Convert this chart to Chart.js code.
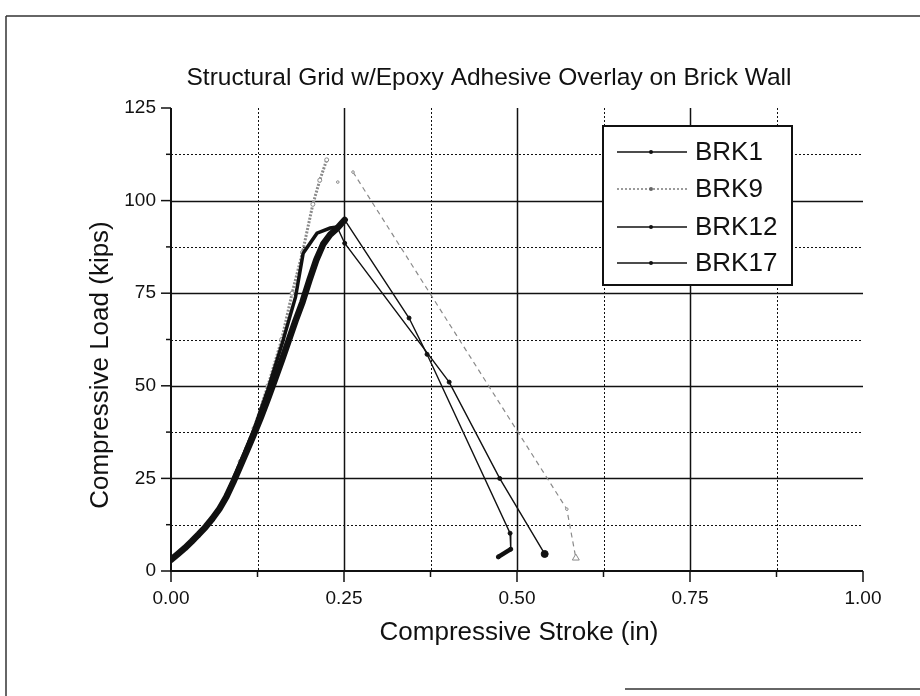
<!DOCTYPE html>
<html>
<head>
<meta charset="utf-8">
<script src="https://cdn.jsdelivr.net/npm/chart.js@4.4.1/dist/chart.umd.min.js"></script>
<style>
  html, body { margin: 0; padding: 0; background: #fff; }
  canvas { display: block; }
</style>
</head>
<body>
<canvas id="brickChart" width="920" height="696"></canvas>
<script>
  // Valeurs (course en pouces, charge en kips)
  const seriesNames = ['BRK1', 'BRK9', 'BRK12', 'BRK17'];

  const brk1X = [0, 0.04, 0.08, 0.12, 0.16, 0.19, 0.21, 0.22, 0.237, 0.251, 0.344, 0.37, 0.49, 0.491, 0.473];
  const brk1Y = [3, 9.9, 20, 37, 56.8, 72.6, 84, 88.3, 92, 94.8, 68.3, 58.5, 10.2, 5.9, 3.8];

  const brk9X = [0, 0.02, 0.04, 0.06, 0.08, 0.10, 0.12, 0.14, 0.16, 0.175, 0.19, 0.205, 0.215, 0.225, 0.241, 0.263, 0.572, 0.585];
  const brk9Y = [3, 6.2, 9.5, 13.8, 20.5, 29.5, 38.5, 50, 62.5, 75, 86, 99, 105.5, 111, 105, 107.7, 16.7, 3.5];

  const brk12X = [0, 0.02, 0.04, 0.06, 0.08, 0.10, 0.12, 0.14, 0.16, 0.18, 0.191, 0.211, 0.23, 0.24, 0.251, 0.402, 0.475, 0.540];
  const brk12Y = [3, 6.2, 9.6, 13.8, 20.3, 29.2, 38.3, 49, 61, 74, 85.8, 91.2, 92.6, 92.9, 88.5, 51, 25, 4.6];

  const brk17X = [0, 0.01, 0.02, 0.03, 0.04, 0.05, 0.06, 0.07, 0.08, 0.09, 0.10, 0.11, 0.12, 0.13, 0.14, 0.15, 0.16, 0.17, 0.18, 0.19, 0.20, 0.21, 0.22, 0.23, 0.24, 0.251];
  const brk17Y = [3, 4.6, 6.2, 8, 9.9, 11.9, 14.2, 16.8, 20, 24, 28.3, 32.6, 37, 41.6, 46.5, 51.6, 56.8, 62.2, 67.6, 72.6, 78.5, 84, 88.3, 90.8, 92.5, 94.8];

  const xTickLabels = ['0.00', '0.25', '0.50', '0.75', '1.00'];
  const yTickLabels = ['0', '25', '50', '75', '100', '125'];

  const FONT = '"Liberation Sans", Arial, Helvetica, sans-serif';
  const INK = '#111';
  const GREY = '#8a8a8a';

  function pts(xs, ys) {
    return xs.map((x, i) => ({ x: x, y: ys[i] }));
  }
  function peakIndex(ys) {
    return ys.indexOf(Math.max.apply(null, ys));
  }
  function isMajor(v, step) {
    return Math.abs(v / step - Math.round(v / step)) < 1e-6;
  }
  function line(ctx, x1, y1, x2, y2) {
    ctx.beginPath();
    ctx.moveTo(x1, y1);
    ctx.lineTo(x2, y2);
    ctx.stroke();
  }

  const pk1 = peakIndex(brk1Y);
  const pk9 = peakIndex(brk9Y);
  const pk12 = peakIndex(brk12Y);

  // Grille, axes, légende et textes dessinés à la main
  const paperPlugin = {
    id: 'paper',
    beforeDatasetsDraw(chart) {
      const { ctx, chartArea: a, scales: { x, y } } = chart;
      ctx.save();
      ctx.strokeStyle = INK;

      x.ticks.forEach(t => {
        const v = t.value;
        if (v <= 0 || v >= 1) return;
        const px = Math.round(x.getPixelForValue(v)) + 0.5;
        const major = isMajor(v, 0.25);
        ctx.lineWidth = major ? 1.5 : 1;
        ctx.setLineDash(major ? [] : [2, 2]);
        line(ctx, px, a.top, px, a.bottom);
      });
      y.ticks.forEach(t => {
        const v = t.value;
        if (v <= 0 || v >= 125) return;
        const py = Math.round(y.getPixelForValue(v)) + 0.5;
        const major = isMajor(v, 25);
        ctx.lineWidth = major ? 1.5 : 1;
        ctx.setLineDash(major ? [] : [2, 2]);
        line(ctx, a.left, py, a.right, py);
      });

      ctx.setLineDash([]);
      ctx.lineWidth = 2;
      line(ctx, a.left, a.top, a.left, a.bottom + 1);
      line(ctx, a.left - 1, a.bottom, a.right, a.bottom);

      ctx.lineWidth = 1.5;
      x.ticks.forEach(t => {
        const px = x.getPixelForValue(t.value);
        line(ctx, px, a.bottom, px, a.bottom + (isMajor(t.value, 0.25) ? 11 : 6));
      });
      y.ticks.forEach(t => {
        const py = y.getPixelForValue(t.value);
        line(ctx, a.left, py, a.left - (isMajor(t.value, 25) ? 10 : 5), py);
      });
      ctx.restore();
    },
    afterDraw(chart) {
      const { ctx } = chart;
      ctx.save();

      // cadre de la page
      ctx.strokeStyle = '#333';
      ctx.lineWidth = 1.5;
      line(ctx, 6, 16, 920, 16);
      line(ctx, 6, 16, 6, 696);
      line(ctx, 625, 689, 920, 689);

      // titre
      ctx.fillStyle = INK;
      ctx.textAlign = 'center';
      ctx.textBaseline = 'alphabetic';
      ctx.font = '24.5px ' + FONT;
      ctx.fillText('Structural Grid w/Epoxy Adhesive Overlay on Brick Wall', 489, 85);

      // titres des axes
      ctx.font = '26px ' + FONT;
      ctx.textBaseline = 'middle';
      ctx.fillText('Compressive Stroke (in)', 519, 633);
      ctx.save();
      ctx.translate(101, 365);
      ctx.rotate(-Math.PI / 2);
      ctx.fillText('Compressive Load (kips)', 0, 0);
      ctx.restore();

      // légende
      const box = { l: 603, t: 126, r: 792, b: 285 };
      ctx.fillStyle = '#fff';
      ctx.fillRect(box.l, box.t, box.r - box.l, box.b - box.t);
      ctx.strokeStyle = INK;
      ctx.lineWidth = 2;
      ctx.strokeRect(box.l, box.t, box.r - box.l, box.b - box.t);
      const rows = [152, 189, 227, 263];
      chart.data.datasets.forEach((ds, i) => {
        const ry = rows[i];
        ctx.strokeStyle = ds.legendColor;
        ctx.lineWidth = 1.3;
        ctx.setLineDash(ds.legendDash);
        line(ctx, 617, ry, 687, ry);
        ctx.setLineDash([]);
        ctx.fillStyle = ds.legendColor;
        ctx.beginPath();
        ctx.arc(651, ry, 2, 0, Math.PI * 2);
        ctx.fill();
        ctx.fillStyle = INK;
        ctx.textAlign = 'left';
        ctx.font = '26px ' + FONT;
        ctx.fillText(ds.label, 695, ry + 1);
      });
      ctx.restore();
    }
  };

  const ctx = document.getElementById('brickChart').getContext('2d');

  const brickChart = new Chart(ctx, {
    type: 'scatter',
    data: {
      datasets: [
        {
          label: seriesNames[0],
          data: pts(brk1X, brk1Y),
          showLine: true,
          borderColor: INK,
          legendColor: INK,
          legendDash: [],
          backgroundColor: INK,
          order: 0,
          pointRadius: c => (c.dataIndex > pk1 ? 2 : 0),
          segment: {
            borderWidth: c => (c.p1DataIndex === brk1X.length - 1 ? 4.5 : 1.4)
          }
        },
        {
          label: seriesNames[1],
          data: pts(brk9X, brk9Y),
          showLine: true,
          borderColor: GREY,
          legendColor: '#666',
          legendDash: [2, 2],
          backgroundColor: '#fff',
          pointBorderColor: GREY,
          pointBorderWidth: 1,
          order: 3,
          pointStyle: c => (c.dataIndex === brk9X.length - 1 ? 'triangle' : 'circle'),
          pointRadius: c => (c.dataIndex === brk9X.length - 1 ? 4 : (c.dataIndex <= pk9 ? 2 : 1.3)),
          segment: {
            borderColor: c => (c.p0DataIndex >= pk9 && c.p0DataIndex < pk9 + 2 ? 'rgba(0,0,0,0)' : GREY),
            borderWidth: c => (c.p0DataIndex < pk9 ? 3 : 1.2),
            borderDash: c => (c.p0DataIndex < pk9 ? [2, 1.5] : [5, 4])
          }
        },
        {
          label: seriesNames[2],
          data: pts(brk12X, brk12Y),
          showLine: true,
          borderColor: INK,
          legendColor: INK,
          legendDash: [],
          backgroundColor: INK,
          order: 1,
          pointRadius: c => (c.dataIndex === brk12X.length - 1 ? 3.5 : (c.dataIndex > pk12 ? 2 : 0)),
          segment: {
            borderWidth: c => (c.p0DataIndex < pk12 ? 3.5 : 1.4)
          }
        },
        {
          label: seriesNames[3],
          data: pts(brk17X, brk17Y),
          showLine: true,
          borderColor: INK,
          legendColor: INK,
          legendDash: [],
          backgroundColor: INK,
          borderWidth: 6.5,
          borderCapStyle: 'round',
          borderJoinStyle: 'round',
          order: 2,
          pointRadius: 0
        }
      ]
    },
    options: {
      responsive: false,
      animation: false,
      events: [],
      devicePixelRatio: 1,
      layout: { padding: { top: 108, right: 57, left: 0, bottom: 0 } },
      plugins: {
        legend: { display: false },
        title: { display: false },
        tooltip: { enabled: false }
      },
      scales: {
        x: {
          type: 'linear',
          min: 0,
          max: 1,
          afterFit: s => { s.height = 125; },
          grid: { display: false, drawTicks: false },
          border: { display: false },
          ticks: {
            stepSize: 0.125,
            autoSkip: false,
            maxRotation: 0,
            padding: 16,
            color: INK,
            font: { family: FONT, size: 19 },
            callback: v => (isMajor(v, 0.25) ? xTickLabels[Math.round(v / 0.25)] : '')
          }
        },
        y: {
          type: 'linear',
          min: 0,
          max: 125,
          afterFit: s => { s.width = 171; },
          grid: { display: false, drawTicks: false },
          border: { display: false },
          ticks: {
            stepSize: 12.5,
            autoSkip: false,
            padding: 15,
            color: INK,
            font: { family: FONT, size: 19 },
            callback: v => (isMajor(v, 25) ? yTickLabels[Math.round(v / 25)] : '')
          }
        }
      }
    },
    plugins: [paperPlugin]
  });
</script>
</body>
</html>
